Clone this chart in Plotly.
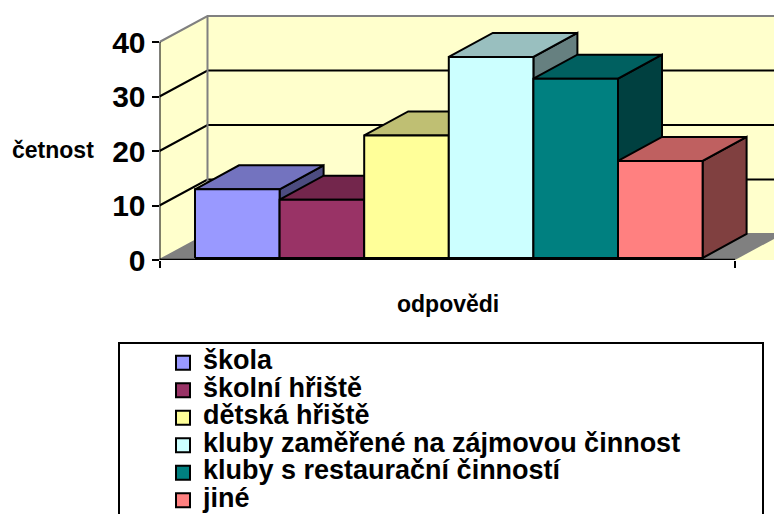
import plotly.graph_objects as go

categories = ["škola", "školní hřiště", "dětská hřiště",
              "kluby zaměřené na zájmovou činnost",
              "kluby s restaurační činností", "jiné"]
values = [12.6, 10.7, 22.5, 36.9, 32.9, 17.8]
colors = ["#9999FF", "#993366", "#FFFF99", "#CCFFFF", "#008080", "#FF8080"]
tick_vals = [0, 10, 20, 30, 40]

W, H = 774, 514
# pixel layout of the front plane
PX_LEFT, PX_BOTTOM = 159.5, 260
PX_PER_CAT, PX_PER_UNIT = 84.6, 5.45
BAR0_PX = 195

x_min = (PX_LEFT - BAR0_PX) / PX_PER_CAT
x_max = (W - BAR0_PX) / PX_PER_CAT
x_floor_end = (735 - BAR0_PX) / PX_PER_CAT
y_max = PX_BOTTOM / PX_PER_UNIT

# oblique depth offsets, in axis units
wall_dx, wall_dy = 48 / PX_PER_CAT, 26 / PX_PER_UNIT
bar_dx, bar_dy = 44 / PX_PER_CAT, 24 / PX_PER_UNIT
bar_base = 2 / PX_PER_UNIT


def shade(hex_color, k):
    r, g, b = (int(hex_color[i:i + 2], 16) for i in (1, 3, 5))
    return f"rgb({r * k:.0f},{g * k:.0f},{b * k:.0f})"


def poly(xs, ys, fill, line="black", width=2):
    return go.Scatter(x=xs, y=ys, mode="lines", fill="toself", fillcolor=fill,
                      line=dict(color=line, width=width), hoverinfo="skip",
                      showlegend=False, cliponaxis=False)


def path(xs, ys, color, width):
    return go.Scatter(x=xs, y=ys, mode="lines", line=dict(color=color, width=width),
                      hoverinfo="skip", showlegend=False, cliponaxis=False)


fig = go.Figure()

# walls and floor
back_x = x_min + wall_dx
fig.add_trace(go.Scatter(x=[back_x, x_max, x_max, back_x, back_x],
                         y=[0, 0, 40 + wall_dy, 40 + wall_dy, 0], mode="lines", fill="toself",
                         fillcolor="#FFFFCC", line=dict(width=0), hoverinfo="skip",
                         showlegend=False))
fig.add_trace(go.Scatter(x=[x_min, back_x, back_x, x_min, x_min],
                         y=[0, wall_dy, 40 + wall_dy, 40, 0], mode="lines", fill="toself",
                         fillcolor="#FFFFCC", line=dict(width=0), hoverinfo="skip",
                         showlegend=False))
fig.add_trace(go.Scatter(x=[x_min, x_floor_end, x_floor_end + wall_dx, back_x, x_min],
                         y=[0, 0, wall_dy, wall_dy, 0], mode="lines", fill="toself",
                         fillcolor="#808080", line=dict(width=0), hoverinfo="skip",
                         showlegend=False))

# gridlines on the walls
for v in tick_vals:
    color = "#808080" if v in (0, 40) else "black"
    fig.add_trace(path([x_min, back_x, x_max], [v, v + wall_dy, v + wall_dy], color, 2))
fig.add_trace(path([back_x, back_x], [wall_dy, 40 + wall_dy], "#808080", 2))

# bars, left to right so that each one covers the side of the previous one
for i, (val, col) in enumerate(zip(values, colors)):
    x0, x1 = i, i + 1
    top = bar_base + val
    fig.add_trace(poly([x1, x1 + bar_dx, x1 + bar_dx, x1, x1],
                       [bar_base, bar_base + bar_dy, top + bar_dy, top, bar_base], shade(col, 0.5)))
    fig.add_trace(poly([x0, x0 + bar_dx, x1 + bar_dx, x1, x0],
                       [top, top + bar_dy, top + bar_dy, top, top], shade(col, 0.75)))
    fig.add_trace(poly([x0, x1, x1, x0, x0],
                       [bar_base, bar_base, top, top, bar_base], col))

# front axis lines
fig.add_trace(path([x_min, x_floor_end], [0, 0], "black", 2.5))
fig.add_trace(path([x_min, x_min], [0, 40], "black", 2))

# legend built on its own hidden axes, the row spacing is tighter than plotly's legend allows
rows = list(range(len(categories)))
fig.add_trace(go.Scatter(
    x=[183 / W] * len(rows), y=rows, mode="markers",
    marker=dict(symbol="square", size=14, color=colors, line=dict(color="black", width=2)),
    xaxis="x2", yaxis="y2", hoverinfo="skip", showlegend=False, cliponaxis=False))
fig.add_trace(go.Scatter(
    x=[203 / W] * len(rows), y=rows, text=categories, mode="text", textposition="middle right",
    textfont=dict(size=27, color="black", family="Liberation Sans", weight="bold"),
    xaxis="x2", yaxis="y2", hoverinfo="skip", showlegend=False, cliponaxis=False))

fig.update_layout(
    width=W, height=H, margin=dict(l=0, r=0, t=0, b=0, autoexpand=False), autosize=False,
    paper_bgcolor="white", plot_bgcolor="white", showlegend=False,
    font=dict(family="Liberation Sans", color="black"),
    xaxis=dict(domain=[PX_LEFT / W, 1], range=[x_min, x_max], showgrid=False, zeroline=False,
               tickmode="array", tickvals=[x_min, x_floor_end], ticktext=["", ""],
               ticks="outside", ticklen=7, tickwidth=2, tickcolor="black"),
    yaxis=dict(domain=[(H - PX_BOTTOM) / H, 1], range=[0, y_max], showgrid=False, zeroline=False,
               tickmode="array", tickvals=tick_vals, ticks="outside", ticklen=7, tickwidth=2,
               tickcolor="black", tickfont=dict(size=30, family="Liberation Sans", weight="bold")),
    xaxis2=dict(domain=[0, 1], range=[0, 1], visible=False, anchor="y2"),
    yaxis2=dict(domain=[0, 1 - 342 / H], range=[5.5, -0.75], visible=False, anchor="x2"),
    # the box runs off the bottom of the picture, so no lower edge is seen
    shapes=[dict(type="rect", xref="paper", yref="paper", x0=119 / W, x1=763 / W,
                 y0=-6 / H, y1=1 - 343 / H, line=dict(color="black", width=2))],
    annotations=[
        dict(text="<b>četnost</b>", xref="paper", yref="paper", x=53 / W, y=1 - 150 / H,
             xanchor="center", yanchor="middle", showarrow=False,
             font=dict(size=23, family="Liberation Sans")),
        dict(text="<b>odpovědi</b>", xref="paper", yref="paper", x=448 / W, y=1 - 304 / H,
             xanchor="center", yanchor="middle", showarrow=False,
             font=dict(size=23, family="Liberation Sans")),
    ],
)

# the page's default body margin would push the fixed-size figure out of the window
fig.write_html("out.html", config={"displayModeBar": False},
               post_script="document.body.style.margin = '0';")
